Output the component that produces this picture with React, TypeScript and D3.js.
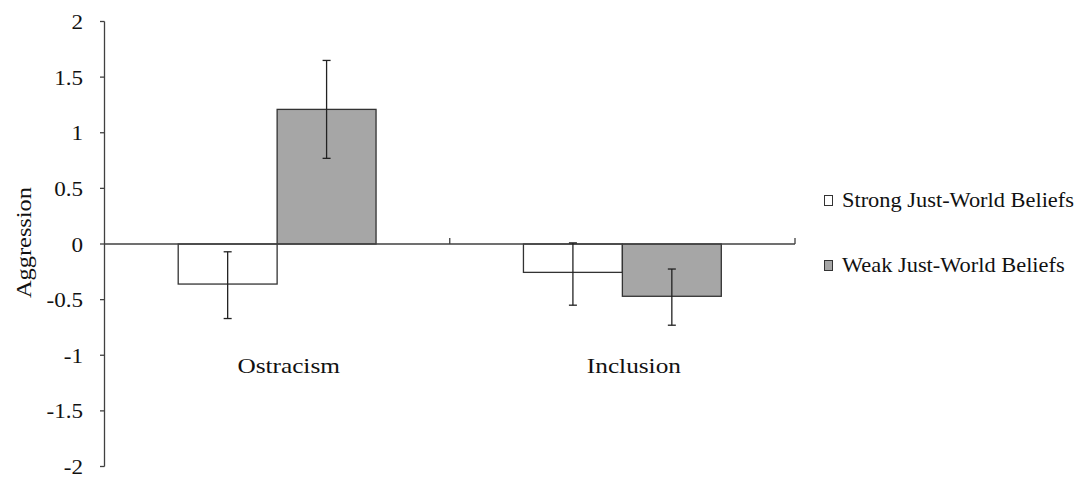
import React from "react";
import * as d3 from "d3";

const categories = ["Ostracism", "Inclusion"];
const seriesNames = ["Strong Just-World Beliefs", "Weak Just-World Beliefs"];
const strongValues = [-0.36, -0.255];
const weakValues = [1.21, -0.47];
const strongLow = [-0.67, -0.55];
const strongHigh = [-0.07, 0.01];
const weakLow = [0.77, -0.73];
const weakHigh = [1.65, -0.225];
const yTicks = [2, 1.5, 1, 0.5, 0, -0.5, -1, -1.5, -2];
const seriesFill = ["#ffffff", "#a6a6a6"];

const W = 1083;
const H = 484;
const FONT = '"Liberation Serif", "Times New Roman", serif';

const App = () => {
  const x0 = d3.scaleBand().domain(categories).range([104.5, 795]).padding(0);
  const x1 = d3
    .scaleBand()
    .domain(seriesNames)
    .range([0, x0.bandwidth()])
    .paddingInner(0)
    .paddingOuter(0.745);
  const y = d3.scaleLinear().domain([-2, 2]).range([466.5, 21.5]);

  const rows = categories.flatMap((c, i) => [
    { cat: c, s: seriesNames[0], v: strongValues[i], lo: strongLow[i], hi: strongHigh[i], fill: seriesFill[0] },
    { cat: c, s: seriesNames[1], v: weakValues[i], lo: weakLow[i], hi: weakHigh[i], fill: seriesFill[1] },
  ]);

  const axisColor = "#404040";
  // source text is a little stretched horizontally
  const stretched = (tx: number, ty: number, sx: number) => `translate(${tx},${ty}) scale(${sx},1)`;
  const textStyle = { fontFamily: FONT };

  return (
    <svg
      width={W}
      height={H}
      style={{ position: "absolute", left: 0, top: 0, background: "#fff", fontFamily: FONT }}
    >
      {/* bars */}
      {rows.map((d, i) => {
        const bx = (x0(d.cat) ?? 0) + (x1(d.s) ?? 0);
        const top = y(Math.max(0, d.v));
        const bottom = y(Math.min(0, d.v));
        return (
          <rect
            key={"b" + i}
            x={bx}
            y={top}
            width={x1.bandwidth()}
            height={bottom - top}
            fill={d.fill}
            stroke="#333"
            strokeWidth={1.3}
          />
        );
      })}

      {/* x axis */}
      <line x1={x0.range()[0]} x2={x0.range()[1]} y1={y(0)} y2={y(0)} stroke={axisColor} strokeWidth={1.3} />
      {categories.map((c, i) => {
        const tx = (x0(c) ?? 0) + x0.bandwidth();
        return <line key={"xt" + i} x1={tx} x2={tx} y1={y(0)} y2={y(0) - 6} stroke={axisColor} strokeWidth={1.3} />;
      })}

      {/* error bars */}
      {rows.map((d, i) => {
        const cx = (x0(d.cat) ?? 0) + (x1(d.s) ?? 0) + x1.bandwidth() / 2;
        return (
          <g key={"e" + i} stroke="#222" strokeWidth={1.3}>
            <line x1={cx} x2={cx} y1={y(d.lo)} y2={y(d.hi)} />
            <line x1={cx - 4} x2={cx + 4} y1={y(d.lo)} y2={y(d.lo)} />
            <line x1={cx - 4} x2={cx + 4} y1={y(d.hi)} y2={y(d.hi)} />
          </g>
        );
      })}

      {/* y axis */}
      <line x1={104.5} x2={104.5} y1={y(2)} y2={y(-2)} stroke={axisColor} strokeWidth={1.3} />
      {yTicks.map((t) => (
        <g key={"yt" + t}>
          <line x1={100} x2={104.5} y1={y(t)} y2={y(t)} stroke={axisColor} strokeWidth={1.3} />
          <text
            transform={stretched(83, y(t) + 7.5, 1.05)}
            textAnchor="end"
            fontSize={22}
            fill="#111"
            style={textStyle}
          >
            {t}
          </text>
        </g>
      ))}

      {/* y label */}
      <text
        transform={`translate(31,242.5) rotate(-90) scale(1.16,1)`}
        textAnchor="middle"
        fontSize={21}
        fill="#111"
        style={textStyle}
      >
        Aggression
      </text>

      {/* category labels */}
      {categories.map((c) => (
        <text
          key={"c" + c}
          transform={stretched((x0(c) ?? 0) + x0.bandwidth() / 2 + 11.5, 373, 1.15)}
          textAnchor="middle"
          fontSize={22}
          fill="#111"
          style={textStyle}
        >
          {c}
        </text>
      ))}

      {/* legend */}
      {seriesNames.map((s, i) => (
        <g key={"l" + s}>
          <rect x={824.5} y={195.5 + i * 65} width={8} height={10} fill={seriesFill[i]} stroke="#333" strokeWidth={1} />
          <text transform={stretched(842, 207 + i * 65, 1.12)} fontSize={20} fill="#111" style={textStyle}>
            {s}
          </text>
        </g>
      ))}
    </svg>
  );
};

export default App;
